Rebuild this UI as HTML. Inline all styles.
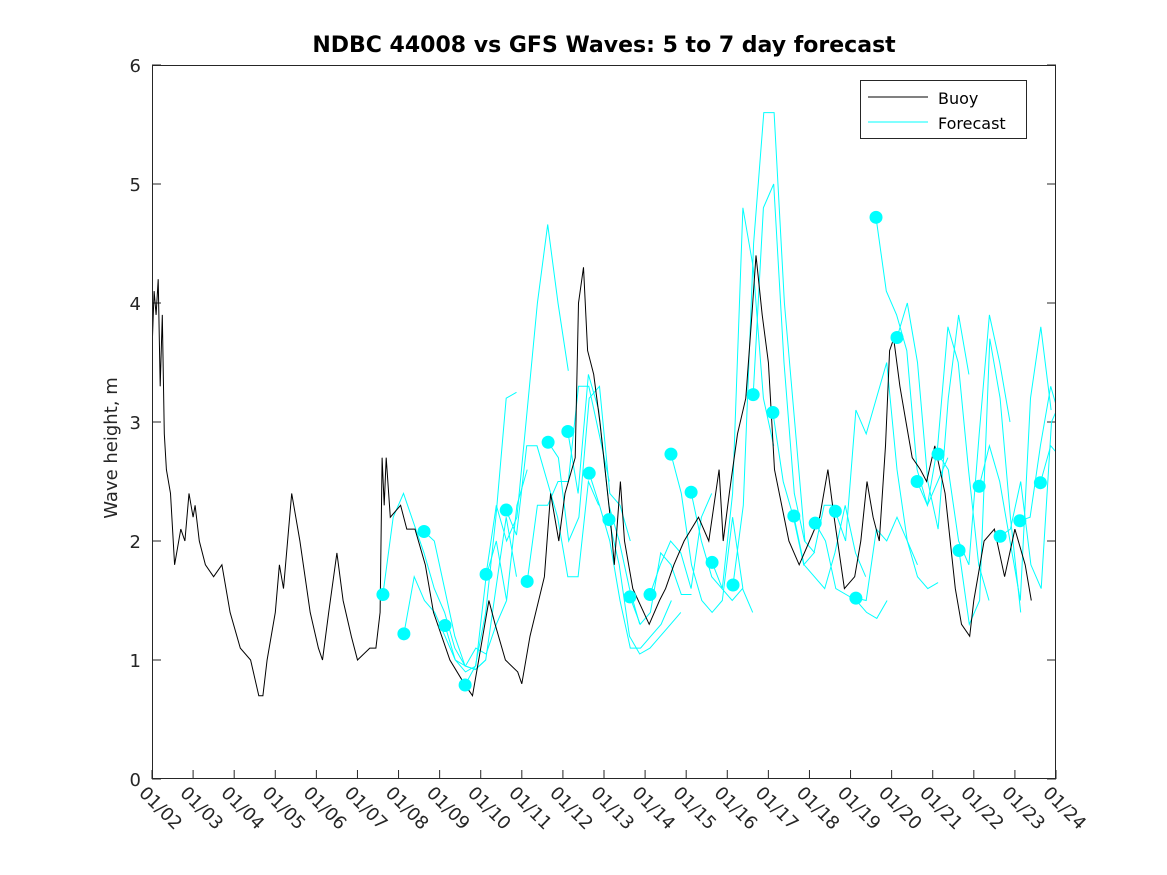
<!DOCTYPE html>
<html><head><meta charset="utf-8"><style>
body{margin:0;background:#fff;}
svg{display:block;font-family:"DejaVu Sans","Liberation Sans",sans-serif;}
</style></head><body>
<svg id="chart" width="1167" height="875" xmlns="http://www.w3.org/2000/svg">
<rect width="1167" height="875" fill="#fff"/>
<text x="604" y="52" text-anchor="middle" font-size="22" font-weight="bold">NDBC 44008 vs GFS Waves: 5 to 7 day forecast</text>
<text transform="translate(117,448) rotate(-90)" text-anchor="middle" font-size="18" fill="#262626">Wave height, m</text>
<defs><clipPath id="pc"><rect x="152" y="65" width="904" height="714"/></clipPath></defs>
<g id="axes"></g>
<g id="series" clip-path="url(#pc)"></g>
<g id="dots"></g>
<rect x="152.5" y="65.5" width="903" height="713" fill="none" stroke="#262626" stroke-width="1"/>
<g>
<rect x="860.5" y="80.5" width="166" height="58" fill="#fff" stroke="#262626"/>
<g><line x1="868" y1="97" x2="928" y2="97" stroke="#000"/><text x="938" y="104" font-size="16">Buoy</text></g>
<g><line x1="868" y1="122" x2="928" y2="122" stroke="#00ffff"/><text x="938" y="129" font-size="16">Forecast</text></g>
</g>
</svg>
<script>
const xTickLabels=["01/02","01/03","01/04","01/05","01/06","01/07","01/08","01/09","01/10","01/11","01/12","01/13","01/14","01/15","01/16","01/17","01/18","01/19","01/20","01/21","01/22","01/23","01/24"];
const yTicks=[0,1,2,3,4,5,6];
const buoyDays=[0,0.05,0.1,0.15,0.2,0.25,0.3,0.35,0.45,0.55,0.7,0.8,0.9,1.0,1.05,1.15,1.3,1.5,1.7,1.9,2.15,2.4,2.6,2.7,2.8,3.0,3.1,3.2,3.4,3.5,3.6,3.85,4.05,4.15,4.3,4.5,4.65,4.85,5.0,5.3,5.45,5.55,5.6,5.65,5.7,5.8,6.05,6.2,6.4,6.65,6.85,7.25,7.6,7.8,7.95,8.2,8.35,8.6,8.9,9.0,9.2,9.55,9.7,9.9,10.05,10.3,10.38,10.5,10.6,10.75,10.9,11.15,11.25,11.4,11.5,11.7,12.1,12.35,12.5,12.7,12.95,13.3,13.55,13.8,13.9,14.05,14.25,14.45,14.6,14.7,14.85,15.0,15.15,15.5,15.75,16.0,16.25,16.45,16.6,16.85,17.1,17.25,17.4,17.55,17.7,17.85,17.95,18.05,18.2,18.35,18.5,18.7,18.85,19.05,19.3,19.55,19.7,19.9,20.0,20.25,20.5,20.75,21.0,21.25,21.4];
const buoyVals=[3.6,4.1,3.9,4.2,3.3,3.9,2.9,2.6,2.4,1.8,2.1,2.0,2.4,2.2,2.3,2.0,1.8,1.7,1.8,1.4,1.1,1.0,0.7,0.7,1.0,1.4,1.8,1.6,2.4,2.2,2.0,1.4,1.1,1.0,1.4,1.9,1.5,1.2,1.0,1.1,1.1,1.4,2.7,2.3,2.7,2.2,2.3,2.1,2.1,1.8,1.4,1.0,0.8,0.7,1.0,1.5,1.3,1.0,0.9,0.8,1.2,1.7,2.4,2.0,2.4,2.7,4.0,4.3,3.6,3.4,3.0,2.2,1.8,2.5,2.0,1.6,1.3,1.5,1.6,1.8,2.0,2.2,2.0,2.6,2.0,2.4,2.9,3.2,3.9,4.4,3.9,3.5,2.6,2.0,1.8,2.0,2.2,2.6,2.2,1.6,1.7,2.0,2.5,2.2,2.0,2.8,3.6,3.7,3.3,3.0,2.7,2.6,2.5,2.8,2.4,1.6,1.3,1.2,1.5,2.0,2.1,1.7,2.1,1.8,1.5];
const fcStartDays=[5.62,6.13,6.62,7.13,7.62,8.13,8.62,9.13,9.64,10.12,10.64,11.12,11.63,12.12,12.63,13.12,13.63,14.14,14.63,15.11,15.62,16.14,16.63,17.13,17.62,18.13,18.62,19.13,19.64,20.13,20.64,21.12,21.62];
const fc1=[1.55,2.2,2.4,2.15,1.9,1.6,1.4,1.1,0.95,0.92,1.0];
const fc2=[1.22,1.7,1.5,1.4,1.2,1.0,0.95,1.1,1.05,1.3,1.5];
const fc3=[2.08,2.0,1.6,1.2,0.95,0.92,1.0,1.6,2.2,1.7];
const fc4=[1.29,1.0,0.9,0.95,1.7,2.0,1.5,2.3,2.6];
const fc5=[0.79,0.95,1.4,2.2,3.2,3.25];
const fc6=[1.72,2.3,2.0,2.2,3.1,4.0,4.66,4.0,3.43];
const fc7=[2.26,2.05,2.8,2.8,2.5,2.2,1.7,1.7,2.5,2.3];
const fc8=[1.66,2.3,2.3,2.5,2.5,3.3,3.3,2.9,2.5];
const fc9=[2.83,2.7,2.0,2.2,3.2,3.3,2.4,2.3,2.0];
const fc10=[2.92,2.4,3.4,3.1,2.3,2.0,1.6,1.3];
const fc11=[2.57,2.3,2.0,1.5,1.1,1.1,1.2,1.3,1.5];
const fc12=[2.18,1.8,1.2,1.05,1.1,1.2,1.3,1.4];
const fc13=[1.53,1.3,1.4,1.9,1.8,1.55,1.55];
const fc14=[1.55,1.8,2.0,1.9,1.6,2.2,2.4];
const fc15=[2.73,2.4,1.8,1.5,1.4,1.5,2.2,1.6];
const fc16=[2.41,2.0,1.7,1.6,1.5,1.6,1.4];
const fc17=[1.82,1.6,2.4,4.8,4.3,3.2,2.8];
const fc18=[1.63,2.3,4.5,5.6,5.6,4.0,3.0,2.0];
const fc19=[3.23,4.8,5.0,3.5,2.4,2.0,1.9];
const fc20=[3.08,2.5,2.2,1.8,1.9,2.3,2.3];
const fc21=[2.21,1.8,1.7,1.6,1.9,2.3,1.9,1.7];
const fc22=[2.15,2.0,1.6,1.55,1.5,1.4,1.35,1.5];
const fc23=[2.25,2.0,3.1,2.9,3.2,3.5,2.6,2.0,1.8];
const fc24=[1.52,1.5,2.1,2.0,2.2,2.0,1.7,1.6,1.65];
const fc25=[4.72,4.1,3.9,3.6,2.6,2.3,2.5,2.7];
const fc26=[3.71,4.0,3.5,2.5,2.1,3.2,3.9,3.4];
const fc27=[2.50,2.3,2.8,3.8,3.5,2.6,1.8,1.5];
const fc28=[2.73,2.6,2.0,1.8,2.9,3.9,3.5,3.0];
const fc29=[1.92,1.3,1.5,3.7,3.2,2.2,1.4];
const fc30=[2.46,2.8,2.5,2.0,1.5,3.2,3.8,3.1];
const fc31=[2.04,2.1,2.5,1.8,1.6,3.0,3.2,3.2,2.8];
const fc32=[2.17,2.2,2.8,3.3,3.0,2.6,2.0,1.55,1.55];
const fc33=[2.49,2.8,2.7,2.2];
const fcSeries=[fc1,fc2,fc3,fc4,fc5,fc6,fc7,fc8,fc9,fc10,fc11,fc12,fc13,fc14,fc15,fc16,fc17,fc18,fc19,fc20,fc21,fc22,fc23,fc24,fc25,fc26,fc27,fc28,fc29,fc30,fc31,fc32,fc33];
const fcStep=0.25;

const NS="http://www.w3.org/2000/svg";
const X0=152,X1=1056,Y0=779,Y1=65;
function xs(d){return X0+d*(X1-X0)/22;}
function ys(v){return Y0-v*(Y0-Y1)/6;}
function mk(t,a,p){const e=document.createElementNS(NS,t);for(const k in a)e.setAttribute(k,a[k]);p.appendChild(e);return e;}
const axes=document.getElementById('axes'),series=document.getElementById('series'),dots=document.getElementById('dots');
yTicks.forEach(v=>{
  const y=ys(v);
  const l=mk('path',{d:`M152,${y}h9M1056,${y}h-9`,stroke:'#262626'},axes);
  
  
  const t=mk('text',{x:141,y:y+7,'text-anchor':'end','font-size':18,fill:'#262626'},axes);
  t.textContent=v;
  
  
});
xTickLabels.forEach((s,i)=>{
  const x=xs(i);
  const l=mk('path',{d:`M${x},779v-9`,stroke:'#262626'},axes);
  
  
  const t=mk('text',{transform:`translate(${x-14},${794}) rotate(45)`,'font-size':18,fill:'#262626'},axes);
  t.textContent=s;
  
  
});
fcSeries.forEach((arr,k)=>{
  const d0=fcStartDays[k];
  const pts=arr.map((v,i)=>xs(d0+i*fcStep).toFixed(1)+','+ys(v).toFixed(1)).join(' ');
  const p=mk('polyline',{points:pts,fill:'none',stroke:'#00ffff','stroke-width':1},series);
  
  
});
{
  const pts=buoyDays.map((dd,i)=>xs(dd).toFixed(1)+','+ys(buoyVals[i]).toFixed(1)).join(' ');
  const p=mk('polyline',{points:pts,fill:'none',stroke:'#000','stroke-width':1},series);
  
  
}
fcSeries.forEach((arr,k)=>{
  const c=mk('circle',{cx:xs(fcStartDays[k]),cy:ys(arr[0]),r:6.5,fill:'#00ffff'},dots);
  
  
});
</script>
</body></html>
